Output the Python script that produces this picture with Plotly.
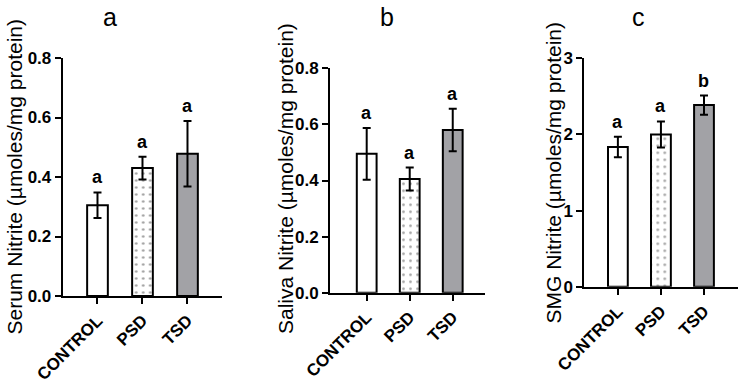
import plotly.graph_objects as go

groups = ["CONTROL", "PSD", "TSD"]

serum_mean = [0.305, 0.430, 0.478]
serum_err = [0.043, 0.038, 0.110]
serum_sig = ["a", "a", "a"]

saliva_mean = [0.495, 0.405, 0.580]
saliva_err = [0.092, 0.041, 0.076]
saliva_sig = ["a", "a", "a"]

smg_mean = [1.835, 2.000, 2.385]
smg_err = [0.135, 0.170, 0.125]
smg_sig = ["a", "a", "b"]

panel_letters = ["a", "b", "c"]
y_titles = ["Serum Nitrite (µmoles/mg protein)",
            "Saliva Nitrite (µmoles/mg protein)",
            "SMG Nitrite (µmoles/mg protein)"]

FONT = "Liberation Sans, Arial, sans-serif"
W, H = 738, 384

fills = ["white", "white", "#a2a2a6"]
patterns = ["", ".", ""]

panels = [
    dict(mean=serum_mean, err=serum_err, sig=serum_sig, yr=[0, 0.8], dt=0.2, fmt=".1f",
         xpx=(62.7, 222), ypx=(58, 296), xr=[-0.773, 2.767], title_x=110, ytitle_xy=(14, 176.5)),
    dict(mean=saliva_mean, err=saliva_err, sig=saliva_sig, yr=[0, 0.8], dt=0.2, fmt=".1f",
         xpx=(330, 485), ypx=(68.3, 292.7), xr=[-0.853, 2.75], title_x=386.7, ytitle_xy=(285, 179)),
    dict(mean=smg_mean, err=smg_err, sig=smg_sig, yr=[0, 3], dt=1, fmt="d",
         xpx=(584.3, 738), ypx=(58.3, 286.7), xr=[-0.78, 2.79], title_x=638, ytitle_xy=(553, 172.5)),
]

fig = go.Figure()
annotations = []
for i, p in enumerate(panels):
    n = "" if i == 0 else str(i + 1)
    fig.add_trace(go.Bar(
        x=groups, y=p["mean"], width=0.46,
        xaxis="x" + n, yaxis="y" + n,
        marker=dict(color=fills, line=dict(color="black", width=2),
                    pattern=dict(shape=patterns, fgcolor="#8a8a8a", bgcolor="white",
                                 size=7, solidity=0.12, fillmode="overlay")),
        error_y=dict(type="data", array=p["err"], visible=True, color="black",
                     thickness=2, width=4),
        showlegend=False, hoverinfo="skip",
    ))
    x0, x1 = p["xpx"]
    ytop, ybot = p["ypx"]
    ax = dict(domain=[x0 / W, x1 / W], range=p["xr"], type="category", automargin=False,
              showline=True, linecolor="black", linewidth=2,
              ticks="outside", ticklen=6, tickwidth=2, tickcolor="black",
              tickangle=-45, tickfont=dict(family=FONT, size=17, color="black", weight="bold"),
              showgrid=False, zeroline=False, anchor="y" + n, fixedrange=True)
    ay = dict(domain=[(H - ybot) / H, (H - ytop) / H], range=p["yr"], automargin=False,
              tick0=0, dtick=p["dt"], tickformat=p["fmt"],
              showline=True, linecolor="black", linewidth=2,
              ticks="outside", ticklen=6, tickwidth=2, tickcolor="black",
              tickfont=dict(family=FONT, size=17, color="black", weight="bold"),
              showgrid=False, zeroline=False, anchor="x" + n, fixedrange=True)
    fig.update_layout(**{"xaxis" + n: ax, "yaxis" + n: ay})
    for g, m, e, s in zip(groups, p["mean"], p["err"], p["sig"]):
        annotations.append(dict(x=g, y=m + e, xref="x" + n, yref="y" + n, text=s,
                                showarrow=False, yanchor="bottom", yshift=3,
                                font=dict(family=FONT, size=18, color="black", weight="bold")))
    annotations.append(dict(x=p["title_x"] / W, y=1, xref="paper", yref="paper",
                            text=panel_letters[i], showarrow=False, yanchor="top",
                            xanchor="center", yshift=-1,
                            font=dict(family=FONT, size=25, color="black")))
    yx, yy = p["ytitle_xy"]
    annotations.append(dict(x=yx / W, y=(H - yy) / H, xref="paper", yref="paper",
                            text=y_titles[i], showarrow=False, textangle=-90,
                            xanchor="center", yanchor="middle",
                            font=dict(family=FONT, size=21, color="black")))

fig.update_layout(width=W, height=H, margin=dict(l=0, r=0, t=0, b=0, autoexpand=False),
                  paper_bgcolor="white", plot_bgcolor="white",
                  bargap=0.5, annotations=annotations)

fig.write_html("out.html")
